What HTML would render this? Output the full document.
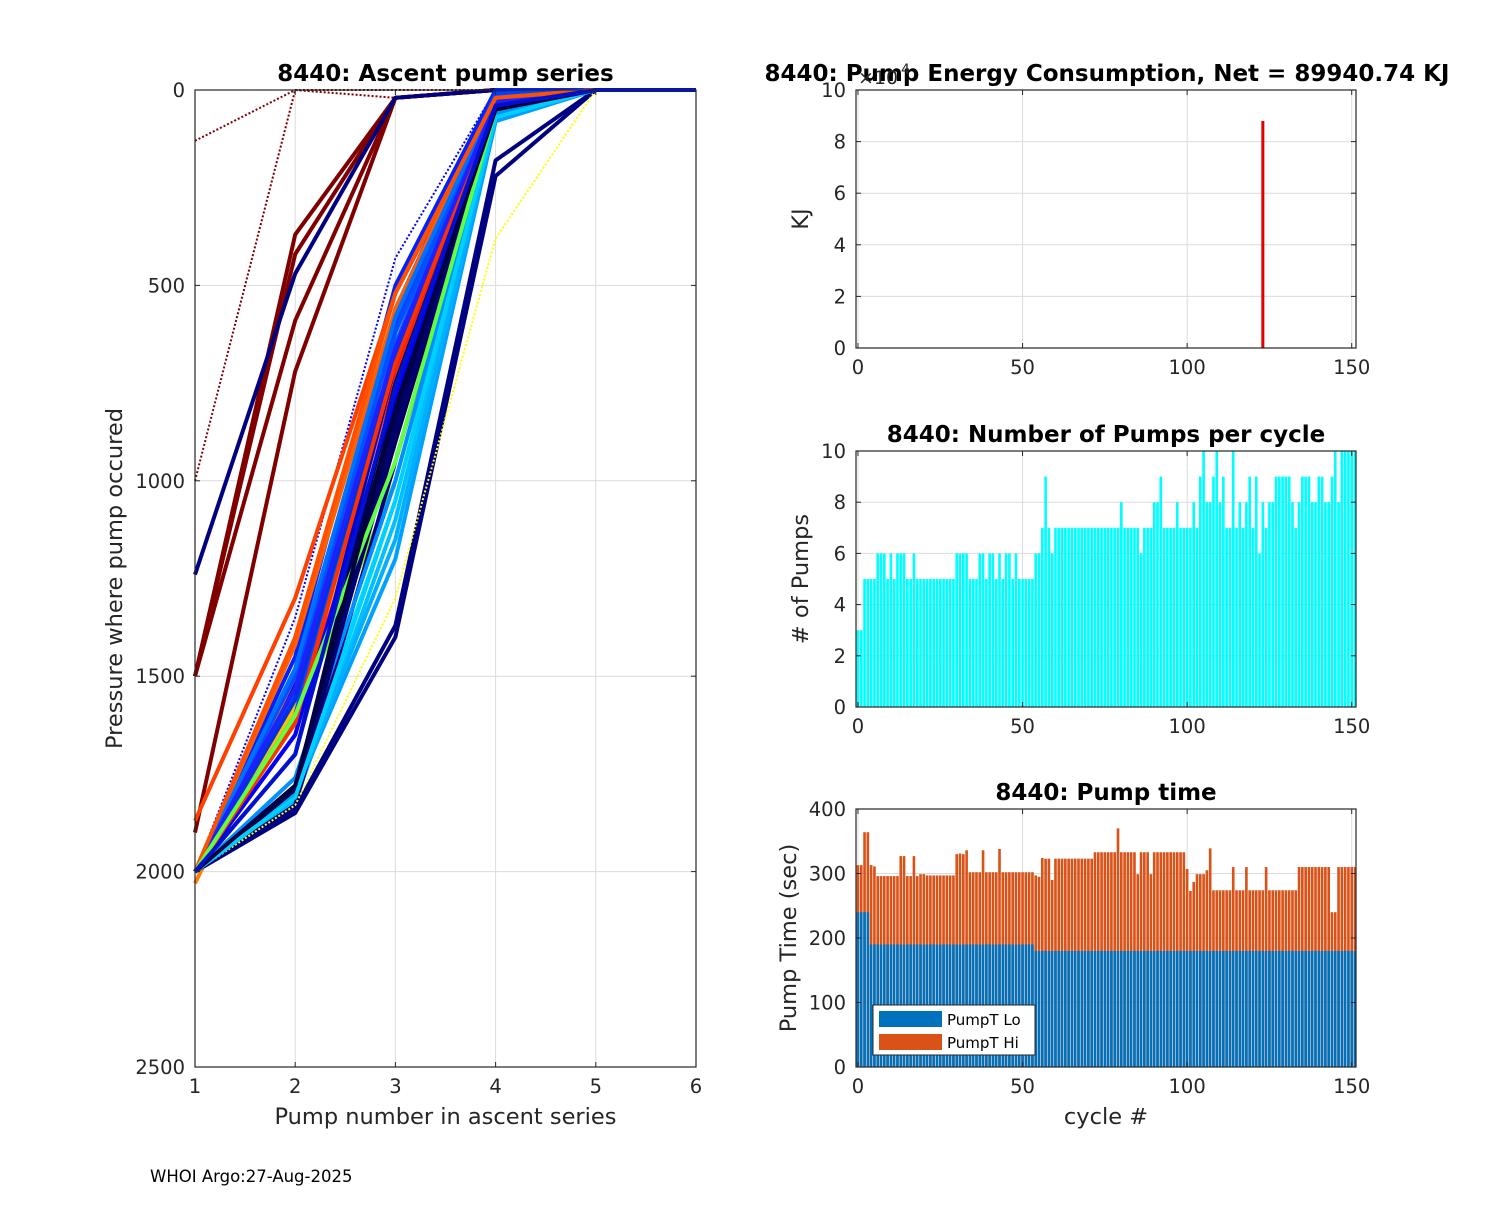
<!DOCTYPE html>
<html><head><meta charset="utf-8"><style>
body{margin:0;background:#fff}
svg{font-family:"DejaVu Sans","Liberation Sans",sans-serif}
</style></head><body>
<svg id="s" width="1500" height="1200" viewBox="0 0 1500 1200" xmlns="http://www.w3.org/2000/svg">
<rect width="1500" height="1200" fill="#fff"/>
<g id="g1"></g>
<g id="g2"></g>
<g id="g3"></g>
<g id="g4"></g>
<text x="150" y="1182" font-size="16.5" fill="#000">WHOI Argo:27-Aug-2025</text>
</svg>
<script>
// ---- data ----
const seriesColors = ["#800000","#800000","#800000","#800000","#800000","#800000","#000080","#000080","#0000ff","#0020ff","#0040ff","#0060ff","#0000ee","#ff4000","#ff6000","#ff2000","#ff8000","#ffc000","#80ff00","#00c0ff","#00a0ff","#00e0ff","#00004d","#00004d","#000060","#000080","#000080","#0000c0","#1040ff","#0000ff","#ffff00","#0050ff","#0030e0","#ff3000","#00b0ff","#0090ff","#000050","#000070","#0070ff","#2020ff","#ff5000","#00d0ff","#60ff40","#000040","#0010d0"];
const seriesDash = [1,0,0,0,0,1,0,0,1,0,0,0,0,0,0,0,0,0,0,0,0,0,0,0,0,0,0,0,0,0,1,0,0,0,0,0,0,0,0,0,0,0,0,0,0];
const seriesP = [
 [130,0,0,0,0,0],
 [1500,370,20,0,0,0],
 [1500,420,20,0,0,0],
 [1500,590,20,0,0,0],
 [1900,720,20,0,0,0],
 [1000,0,20,0,0,0],
 [1240,470,20,0,0,0],
 [2000,1850,1400,220,0,0],
 [2000,1350,430,0,0,0],
 [2000,1450,500,0,0,0],
 [2000,1550,560,10,0,0],
 [2000,1600,650,20,0,0],
 [2000,1520,720,30,0,0],
 [1870,1300,520,30,0,0],
 [2000,1420,560,20,0,0],
 [2000,1650,720,40,0,0],
 [2030,1500,600,20,0,0],
 [2000,1580,800,40,0,0],
 [2000,1620,1000,60,0,0],
 [2000,1820,1100,70,0,0],
 [2000,1800,1200,80,0,0],
 [2000,1780,1050,60,0,0],
 [2000,1780,900,50,0,0],
 [2000,1800,800,50,0,0],
 [2000,1790,850,40,0,0],
 [2000,1840,1370,180,0,0],
 [2000,1830,950,60,0,0],
 [2000,1700,700,40,0,0],
 [2000,1600,600,30,0,0],
 [2000,1650,780,40,0,0],
 [2000,1830,1300,380,0,0],
 [2000,1500,620,20,0,0],
 [2000,1560,680,30,0,0],
 [2000,1620,700,40,0,0],
 [2000,1800,1150,70,0,0],
 [2000,1760,1000,60,0,0],
 [2000,1790,750,50,0,0],
 [2000,1810,880,50,0,0],
 [2000,1480,580,20,0,0],
 [2000,1530,660,30,0,0],
 [2000,1400,520,20,0,0],
 [2000,1810,1050,70,0,0],
 [2000,1600,950,50,0,0],
 [2000,1780,820,50,0,0],
 [2000,1700,760,40,0,0]
];
const pumpCounts = [3,3,5,5,5,5,6,6,6,5,6,5,6,6,6,5,5,6,5,5,5,5,5,5,5,5,5,5,5,5,6,6,6,6,5,5,5,6,6,5,6,6,5,6,5,6,6,5,6,5,5,5,5,5,6,6,7,9,7,6,7,7,7,7,7,7,7,7,7,7,7,7,7,7,7,7,7,7,7,7,8,7,7,7,7,7,6,7,7,7,8,8,9,7,7,7,7,8,7,7,7,7,8,7,9,10,8,8,9,10,8,9,7,7,10,7,8,7,8,9,7,9,6,8,7,8,8,9,9,9,9,9,8,7,8,9,9,9,8,8,9,9,8,8,9,10,8,10,10,10,10,10];
const pumpLo = [240,240,240,240,190,190,190,190,190,190,190,190,190,190,190,190,190,190,190,190,190,190,190,190,190,190,190,190,190,190,190,190,190,190,190,190,190,190,190,190,190,190,190,190,190,190,190,190,190,190,190,190,190,190,180,180,180,180,180,180,180,180,180,180,180,180,180,180,180,180,180,180,180,180,180,180,180,180,180,180,180,180,180,180,180,180,180,180,180,180,180,180,180,180,180,180,180,180,180,180,180,180,180,180,180,180,180,180,180,180,180,180,180,180,180,180,180,180,180,180,180,180,180,180,180,180,180,180,180,180,180,180,180,180,180,180,180,180,180,180,180,180,180,180,180,180,180,180,180,180,180,180];
const pumpTotal = [313,313,364,364,313,311,296,296,296,296,296,296,296,327,327,296,296,327,296,299,299,297,297,297,297,297,297,297,297,297,330,331,330,336,302,302,302,302,336,302,302,302,302,338,302,302,302,302,302,302,302,302,302,302,297,295,324,323,323,290,323,323,323,323,323,323,323,323,323,323,323,323,333,333,333,333,333,333,333,370,333,333,333,333,333,299,333,333,333,299,333,333,333,333,333,333,333,333,333,333,307,273,287,299,299,299,305,339,274,274,274,274,274,274,310,274,274,274,310,274,274,274,274,274,310,274,274,274,274,274,274,274,274,274,310,310,310,310,310,310,310,310,310,310,240,240,310,310,310,310,310,310];
const energyCycles = [123];
const energyVals = [8.8]; // x10^4 KJ
const xTicksCycle = [0,50,100,150];
const yTicksPumps = [0,2,4,6,8,10];
const yTicksTime = [0,100,200,300,400];
const yTicksEnergy = [0,2,4,6,8,10];
const xTicksLeft = [1,2,3,4,5,6];
const yTicksLeft = [0,500,1000,1500,2000,2500];

const NS="http://www.w3.org/2000/svg";
function mk(parent,tag,attrs,text){const e=document.createElementNS(NS,tag);for(const k in attrs)e.setAttribute(k,attrs[k]);if(text!==undefined)e.textContent=text;parent.appendChild(e);return e;}
const TC="#262626";

function axesFrame(g,L,T,R,B,xt,xs,yt,ys){
  for(const v of xt){const x=xs(v);mk(g,'line',{x1:x,x2:x,y1:T,y2:B,stroke:'#dcdcdc','stroke-width':1});}
  for(const v of yt){const y=ys(v);mk(g,'line',{x1:L,x2:R,y1:y,y2:y,stroke:'#dcdcdc','stroke-width':1});}
}
function axesTicks(g,L,T,R,B,xt,xs,yt,ys,title,xl,yl,tx){
  mk(g,'rect',{x:L,y:T,width:R-L,height:B-T,fill:'none',stroke:TC,'stroke-width':1.2});
  for(const v of xt){const x=xs(v);
    mk(g,'line',{x1:x,x2:x,y1:B,y2:B-5,stroke:TC});mk(g,'line',{x1:x,x2:x,y1:T,y2:T+5,stroke:TC});
    const t=mk(g,'text',{x:x,y:B+26,'text-anchor':'middle','font-size':19.5,fill:TC},String(v));
    }
  for(const v of yt){const y=ys(v);
    mk(g,'line',{x1:L,x2:L+5,y1:y,y2:y,stroke:TC});mk(g,'line',{x1:R,x2:R-5,y1:y,y2:y,stroke:TC});
    const t=mk(g,'text',{x:L-10,y:y+7,'text-anchor':'end','font-size':19.5,fill:TC},String(v));
    }
  const tt=mk(g,'text',{x:tx!==undefined?tx:(L+R)/2,y:T-9,'text-anchor':'middle','font-size':23,'font-weight':'bold',fill:'#000'},title);
  
  if(xl){const t=mk(g,'text',{x:(L+R)/2,y:B+57,'text-anchor':'middle','font-size':22.5,fill:TC},xl);
    }
  if(yl){const yy=(T+B)/2, xx=yl[1];const t=mk(g,'text',{x:xx,y:yy,'text-anchor':'middle','font-size':22.5,fill:TC,transform:`rotate(-90 ${xx} ${yy})`},yl[0]);
    }
}

// ---- left chart ----
(function(){
  const g=document.getElementById('g1');const L=195,T=90,R=696,B=1067;
  const xs=v=>L+(v-1)*(R-L)/5, ys=v=>T+v*(B-T)/2500;
  axesFrame(g,L,T,R,B,xTicksLeft,xs,yTicksLeft,ys);
  seriesP.forEach((p,i)=>{
    const pts=p.map((v,j)=>xs(j+1)+','+ys(v)).join(' ');
    const pl=mk(g,'polyline',{points:pts,fill:'none',stroke:seriesColors[i],'stroke-width':seriesDash[i]?2:4,'stroke-dasharray':seriesDash[i]?'2,2':'none','stroke-linejoin':'round'});
    
    
  });
  axesTicks(g,L,T,R,B,xTicksLeft,xs,yTicksLeft,ys,'8440: Ascent pump series','Pump number in ascent series',['Pressure where pump occured',122]);
})();

const cL=856,cR=1356,cMin=-0.6,cMax=151.3;
const cx=v=>cL+(v-cMin)*(cR-cL)/(cMax-cMin);
const bw=0.8*(cR-cL)/(cMax-cMin);

// ---- energy ----
(function(){
  const g=document.getElementById('g2');const T=90,B=348;
  const ys=v=>B-v*(B-T)/10;
  axesFrame(g,cL,T,cR,B,xTicksCycle,cx,yTicksEnergy,ys);
  energyCycles.forEach((c,i)=>{
    const r=mk(g,'rect',{x:cx(c)-1.5,y:ys(energyVals[i]),width:3,height:B-ys(energyVals[i]),fill:'#e00000'});
    
    
  });
  axesTicks(g,cL,T,cR,B,xTicksCycle,cx,yTicksEnergy,ys,'8440: Pump Energy Consumption,  Net = 89940.74 KJ',null,['KJ',808],1107);
  const e=mk(g,'text',{x:858,y:84,'font-size':19,fill:TC},'×10');
  
  const e2=mk(g,'text',{x:901,y:74,'font-size':14,fill:TC},'4');
  
})();

// ---- pumps per cycle ----
(function(){
  const g=document.getElementById('g3');const T=451,B=707;
  const ys=v=>B-v*(B-T)/10;
  axesFrame(g,cL,T,cR,B,xTicksCycle,cx,yTicksPumps,ys);
  pumpCounts.forEach((v,c)=>{
    const r=mk(g,'rect',{x:cx(c)-bw/2,y:ys(v),width:bw,height:B-ys(v),fill:'#00ffff'});
    
    
  });
  axesTicks(g,cL,T,cR,B,xTicksCycle,cx,yTicksPumps,ys,'8440: Number of Pumps per cycle',null,['# of Pumps',808]);
})();

// ---- pump time ----
(function(){
  const g=document.getElementById('g4');const T=809,B=1067;
  const ys=v=>B-v*(B-T)/400;
  axesFrame(g,cL,T,cR,B,xTicksCycle,cx,yTicksTime,ys);
  pumpTotal.forEach((v,c)=>{
    const r=mk(g,'rect',{x:cx(c)-bw/2,y:ys(v),width:bw,height:B-ys(v),fill:'#d95319'});
    
    
    const r2=mk(g,'rect',{x:cx(c)-bw/2,y:ys(pumpLo[c]),width:bw,height:B-ys(pumpLo[c]),fill:'#0072bd'});
    
    
  });
  axesTicks(g,cL,T,cR,B,xTicksCycle,cx,yTicksTime,ys,'8440: Pump time','cycle #',['Pump Time (sec)',796]);
  const lg=mk(g,'g',{});
  
  mk(lg,'rect',{x:873,y:1005,width:162,height:50,fill:'#fff',stroke:TC,'stroke-width':1});
  mk(lg,'rect',{x:879,y:1011,width:63,height:16,fill:'#0072bd'});
  mk(lg,'text',{x:947,y:1025,'font-size':15,fill:'#000'},'PumpT Lo');
  mk(lg,'rect',{x:879,y:1034,width:63,height:16,fill:'#d95319'});
  mk(lg,'text',{x:947,y:1048,'font-size':15,fill:'#000'},'PumpT Hi');
})();
</script>
</body></html>
